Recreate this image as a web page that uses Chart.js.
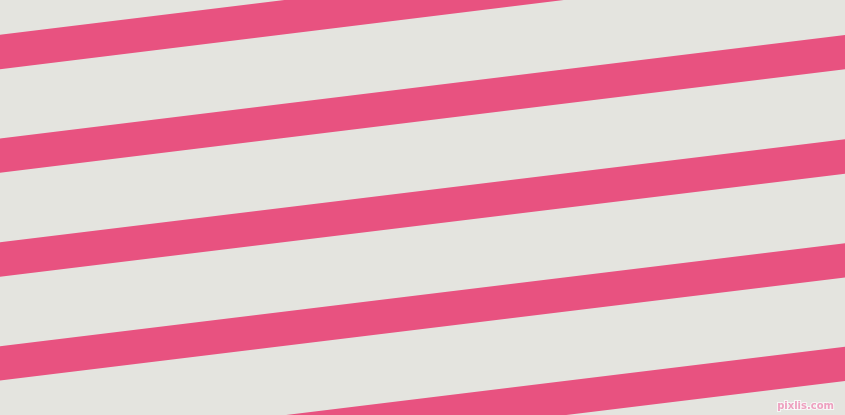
<!DOCTYPE html>
<html>
<head>
<meta charset="utf-8">
<script src="https://cdn.jsdelivr.net/npm/chart.js@4"></script>
<style>
  html, body { margin: 0; padding: 0; background: #e4e4df; overflow: hidden; }
  #wrap { position: relative; width: 845px; height: 415px; }
</style>
</head>
<body>
<div id="wrap"><canvas id="stripes" width="845" height="415"></canvas></div>
<script>
// x positions where each stripe is sampled (left and right edge of picture)
const edgeX = [0, 845];
// centre line of each stripe, in picture pixels from the top
const stripeLeftY = [52, 155.7, 259.5, 363.3, 467.1];
const stripeRightY = [-51.6, 52.2, 156.5, 260.3, 363.8];

const stripeColor = '#e85280';
const backColor = '#e4e4df';

const watermarkPlugin = {
    id: 'watermarkPlugin',
    afterDraw: (chart) => {
        const ctx = chart.ctx;
        ctx.save();
        ctx.font = 'bold 10px "DejaVu Sans", sans-serif';
        ctx.textAlign = 'right';
        ctx.textBaseline = 'middle';
        ctx.lineWidth = 2;
        ctx.strokeStyle = 'rgba(255, 255, 255, 0.7)';
        ctx.strokeText('pixlis.com', 834, 406);
        ctx.fillStyle = 'rgba(236, 150, 185, 0.9)';
        ctx.fillText('pixlis.com', 834, 406);
        ctx.restore();
    }
};

const backgroundPlugin = {
    id: 'backgroundPlugin',
    beforeDraw: (chart) => {
        const ctx = chart.ctx;
        ctx.save();
        ctx.fillStyle = backColor;
        ctx.fillRect(0, 0, chart.width, chart.height);
        ctx.restore();
    }
};

const datasets = stripeLeftY.map((y0, i) => ({
    label: 'stripe ' + (i + 1),
    data: [
        { x: edgeX[0], y: y0 },
        { x: edgeX[1], y: stripeRightY[i] }
    ],
    showLine: true,
    borderColor: stripeColor,
    borderWidth: 34,
    borderCapStyle: 'square',
    pointRadius: 0,
    fill: false,
    clip: 0
}));

new Chart(document.getElementById('stripes').getContext('2d'), {
    type: 'scatter',
    data: { datasets: datasets },
    options: {
        responsive: false,
        animation: false,
        devicePixelRatio: 1,
        layout: { padding: 0 },
        plugins: {
            legend: { display: false },
            tooltip: { enabled: false }
        },
        scales: {
            x: { type: 'linear', min: 0, max: 845, display: false },
            y: { type: 'linear', min: 0, max: 415, reverse: true, display: false }
        }
    },
    plugins: [backgroundPlugin, watermarkPlugin]
});
</script>
</body>
</html>
